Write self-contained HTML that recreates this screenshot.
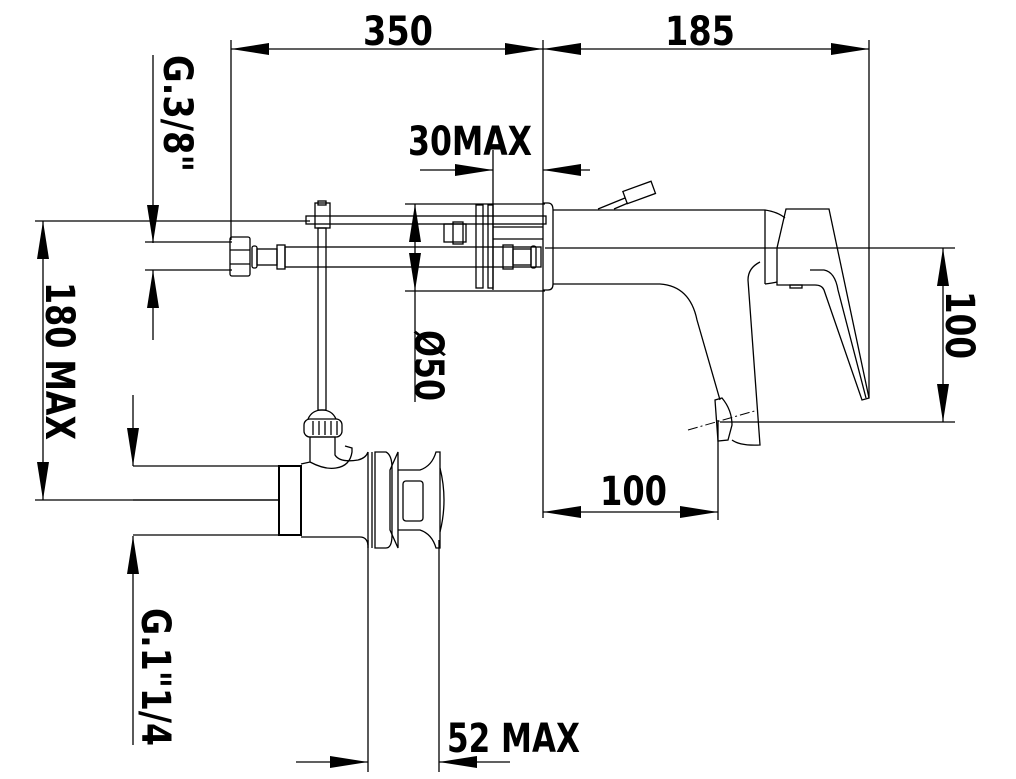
<!DOCTYPE html>
<html><head><meta charset="utf-8"><style>
html,body{margin:0;padding:0;background:#fff;}
svg{display:block;}
text{font-family:"DejaVu Sans","Liberation Sans",sans-serif;font-size:40px;fill:#000;font-weight:bold;}
</style></head><body>
<svg width="1016" height="779" viewBox="0 0 1016 779" xmlns="http://www.w3.org/2000/svg">
<defs>
<marker id="a" viewBox="0 0 38 12" refX="38" refY="6" markerWidth="38" markerHeight="12" markerUnits="userSpaceOnUse" orient="auto"><path d="M0,0L38,6L0,12Z" fill="#000"/></marker>
</defs>
<g stroke="#000" stroke-width="1.3" fill="none">
<line x1="231" y1="40" x2="231" y2="240"/>
<line x1="543" y1="40" x2="543" y2="518"/>
<line x1="869" y1="40" x2="869" y2="398"/>
<line x1="387" y1="49" x2="231" y2="49" marker-end="url(#a)"/>
<line x1="387" y1="49" x2="543" y2="49" marker-end="url(#a)"/>
<line x1="706" y1="49" x2="543" y2="49" marker-end="url(#a)"/>
<line x1="706" y1="49" x2="869" y2="49" marker-end="url(#a)"/>
<line x1="493" y1="150" x2="493" y2="290"/>
<line x1="420" y1="170" x2="493" y2="170" marker-end="url(#a)"/>
<line x1="590" y1="170" x2="543" y2="170" marker-end="url(#a)"/>
<line x1="153" y1="55" x2="153" y2="243" marker-end="url(#a)"/>
<line x1="153" y1="340" x2="153" y2="270" marker-end="url(#a)"/>
<line x1="145" y1="242" x2="232" y2="242"/>
<line x1="145" y1="270" x2="232" y2="270"/>
<line x1="35" y1="221" x2="310" y2="221"/>
<line x1="35" y1="500" x2="280" y2="500"/>
<line x1="43" y1="360" x2="43" y2="221" marker-end="url(#a)"/>
<line x1="43" y1="360" x2="43" y2="500" marker-end="url(#a)"/>
<line x1="405" y1="204" x2="545" y2="204"/>
<line x1="405" y1="291" x2="545" y2="291"/>
<line x1="415" y1="250" x2="415" y2="204" marker-end="url(#a)"/>
<line x1="415" y1="250" x2="415" y2="291" marker-end="url(#a)"/>
<line x1="415" y1="291" x2="415" y2="402"/>
<line x1="545" y1="248" x2="955" y2="248"/>
<line x1="720" y1="422" x2="955" y2="422"/>
<line x1="943" y1="335" x2="943" y2="248" marker-end="url(#a)"/>
<line x1="943" y1="335" x2="943" y2="422" marker-end="url(#a)"/>
<line x1="718" y1="420" x2="718" y2="520"/>
<line x1="630" y1="512" x2="543" y2="512" marker-end="url(#a)"/>
<line x1="630" y1="512" x2="718" y2="512" marker-end="url(#a)"/>
<line x1="133" y1="395" x2="133" y2="466" marker-end="url(#a)"/>
<line x1="133" y1="745" x2="133" y2="536" marker-end="url(#a)"/>
<line x1="368" y1="540" x2="368" y2="772"/>
<line x1="439" y1="540" x2="439" y2="772"/>
<line x1="296" y1="762" x2="368" y2="762" marker-end="url(#a)"/>
<line x1="510" y1="762" x2="439" y2="762" marker-end="url(#a)"/>

<rect x="306" y="216" width="240" height="8"/>
<rect x="315" y="203" width="15" height="25"/>
<rect x="318" y="201" width="8" height="4"/>
<rect x="318" y="228" width="8" height="182"/>
<rect x="230" y="237" width="20" height="39" rx="2"/>
<line x1="230" y1="250" x2="250" y2="250"/><line x1="230" y1="264" x2="250" y2="264"/>
<rect x="252" y="246" width="5" height="22" rx="2"/>
<rect x="257" y="249" width="20" height="16"/>
<rect x="277" y="245" width="8" height="24"/>
<rect x="285" y="247" width="256" height="20"/>
<rect x="503" y="245" width="10" height="24"/>
<rect x="513" y="249" width="18" height="16"/>
<rect x="531" y="246" width="5" height="22" rx="2"/>
<rect x="444" y="224" width="22" height="18"/>
<rect x="453" y="222" width="10" height="22"/>
<rect x="476" y="205" width="7" height="83"/>
<rect x="488" y="205" width="5" height="83"/>
<line x1="493" y1="227" x2="543" y2="227"/><line x1="493" y1="239" x2="543" y2="239"/>
<path d="M543,203 H548 Q553,203 553,210 V284 Q553,290 548,290 H543"/>
<path d="M553,210 H765 Q778,212 785,218"/>
<path d="M553,284 H660 Q690,286 697,320 L720,400"/>
<line x1="765" y1="210" x2="765" y2="284"/>
<path d="M765,284 Q773,283 777,282"/>
<path d="M760,262 Q748,268 748,280 L760,445 Q740,446 732,440"/>
<path d="M715,400 L722,398 Q732,410 732,425 L728,440 L718,441 Z"/>
<line x1="688" y1="430" x2="758" y2="410" stroke-dasharray="10,3,2,3" stroke-width="1"/>
<path d="M786,209 H829 L869,398 L862,400 L824,290 Q822,285 815,285 H777 V248 Z"/>
<path d="M810,270 H824 Q835,272 838,290 L866,398"/>
<rect x="790" y="285" width="12" height="3"/>
<path d="M598,209 L625,198"/><path d="M614,209 L628,203"/>
<rect x="624" y="186" width="30" height="13" transform="rotate(-20 639 192)"/>

<line x1="133" y1="466" x2="280" y2="466"/>
<line x1="133" y1="535" x2="280" y2="535"/>
<line x1="133" y1="500" x2="280" y2="500"/>
<rect x="279" y="466" width="22" height="69" stroke-width="2"/>
<path d="M301,464 L310,462 Q325,470 336,468 Q350,466 352,452 V448 L345,446"/>
<path d="M301,537 H360 Q367,537 368,545"/>
<path d="M310,462 V437 H335 V455 Q340,463 358,460 Q366,458 368,452"/>
<rect x="304" y="419" width="38" height="18" rx="6"/>
<path d="M308,419 Q312,410 322,410 Q332,410 336,419"/>
<line x1="313" y1="421" x2="313" y2="435"/><line x1="319" y1="421" x2="319" y2="435"/><line x1="325" y1="421" x2="325" y2="435"/><line x1="331" y1="421" x2="331" y2="435"/><line x1="337" y1="421" x2="337" y2="435"/>
<line x1="368" y1="452" x2="368" y2="548"/><line x1="372" y1="452" x2="372" y2="548"/>
<path d="M375,452 H386 Q392,455 392,468 V535 Q392,548 386,548 H375 Z"/>
<path d="M398,452 L390,470 V530 L398,548 Z"/>
<path d="M398,470 H420 Q432,466 436,452 H440 V548 H436 Q432,534 420,530 H398"/>
<rect x="403" y="481" width="20" height="40" rx="3"/>
<path d="M440,468 Q448,500 440,532"/>
</g>
<g>
<text x="363" y="45" textLength="70" lengthAdjust="spacingAndGlyphs">350</text>
<text x="665" y="45" textLength="70" lengthAdjust="spacingAndGlyphs">185</text>
<text x="408" y="155" textLength="124" lengthAdjust="spacingAndGlyphs">30MAX</text>
<text x="600" y="505" textLength="67" lengthAdjust="spacingAndGlyphs">100</text>
<text x="447" y="752" textLength="133" lengthAdjust="spacingAndGlyphs">52 MAX</text>
<text transform="translate(164,55) rotate(90)" textLength="117" lengthAdjust="spacingAndGlyphs">G.3/8"</text>
<text transform="translate(46,282) rotate(90)" textLength="158" lengthAdjust="spacingAndGlyphs">180 MAX</text>
<text transform="translate(415,330) rotate(90)" textLength="71" lengthAdjust="spacingAndGlyphs">Ø50</text>
<text transform="translate(946,291) rotate(90)" textLength="68" lengthAdjust="spacingAndGlyphs">100</text>
<text transform="translate(142,608) rotate(90)" textLength="138" lengthAdjust="spacingAndGlyphs">G.1"1/4</text>
</g>
</svg>
</body></html>
